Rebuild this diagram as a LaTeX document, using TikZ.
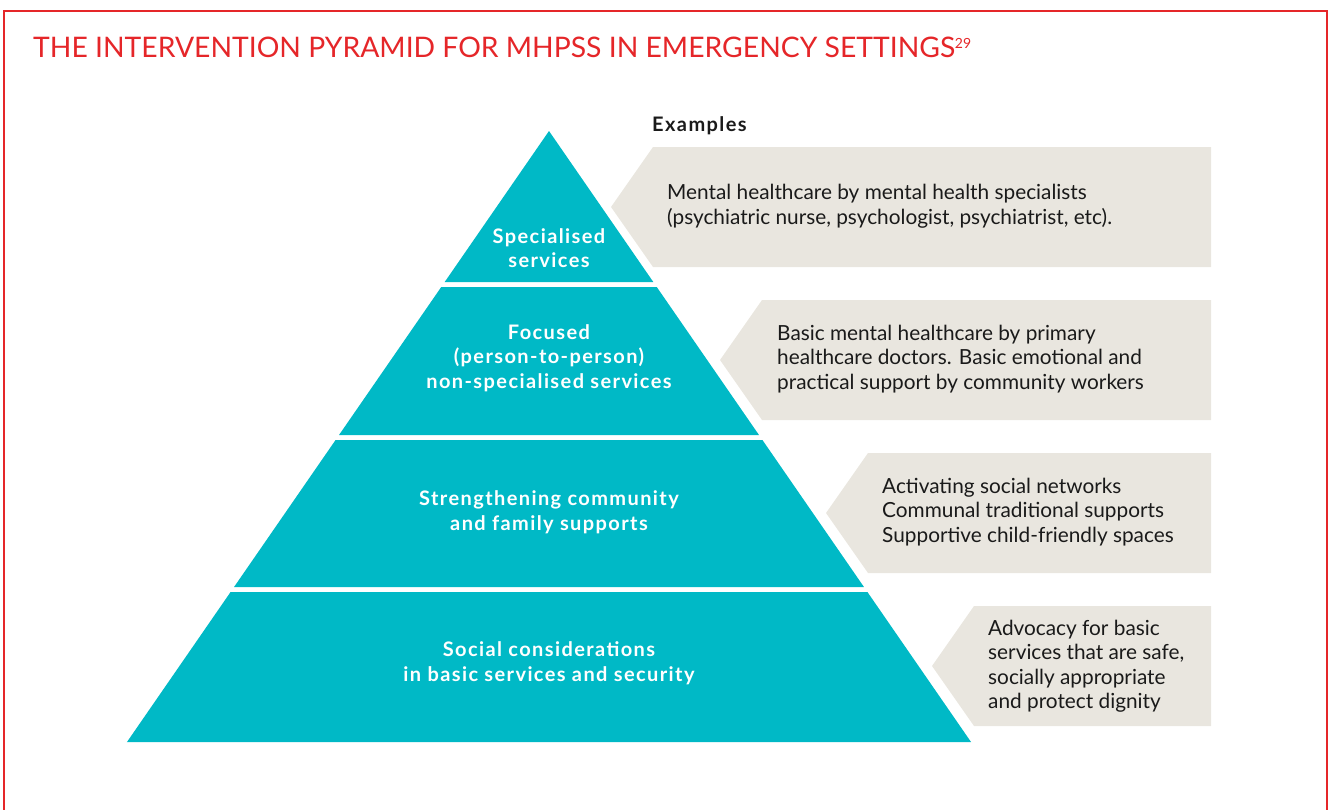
\documentclass[tikz,border=0pt]{standalone}
\usepackage{fontspec}
\setmainfont{Lato}
\usepackage{xcolor}
\usepackage{tikz}
\usetikzlibrary{calc}
\definecolor{pyrteal}{HTML}{00B9C6}
\definecolor{boxgrey}{HTML}{E9E6DF}
\definecolor{framered}{HTML}{E52629}
\definecolor{bodyink}{HTML}{1A1A1A}
\newfontfamily\widebold[LetterSpace=7]{Lato}
\begin{document}
\begin{tikzpicture}[x=1pt,y=-1pt,
  layer/.style={fill=pyrteal},
  layertext/.style={text=white,font=\fontsize{20}{24.5}\selectfont\widebold\bfseries,align=center,inner sep=0pt},
  example/.style={fill=boxgrey},
  exampletext/.style={anchor=west,text=bodyink,align=left,font=\fontsize{20.8}{24.5}\selectfont,inner sep=0pt}]
\useasboundingbox (0,0) rectangle (1331,809);
% frame, open at the bottom
\draw[framered,line width=2.2pt] (4,812) -- (4,11) -- (1327,11) -- (1327,812);
\node[anchor=west,inner sep=0pt,text=framered,font=\fontsize{28.3}{30}\selectfont] (title) at (33,47)
  {THE INTERVENTION PYRAMID FOR MHPSS IN EMERGENCY SETTINGS\raisebox{9pt}{\fontsize{14}{14}\selectfont 29}};

% pyramid layers (apex at 549,131)
\foreach \t/\b in {131/282,287/435,440/587,592/742}
  \fill[layer] ({549-(\t-131)*0.6907},\t) -- ({549+(\t-131)*0.6907},\t)
    -- ({549+(\b-131)*0.6907},\b) -- ({549-(\b-131)*0.6907},\b) -- cycle;

\node[layertext] (specialised) at (549,248) {Specialised\\services};
\node[layertext] (focused) at (549,358) {Focused\\(person-to-person)\\non-specialised services};
\node[layertext] (community) at (549,512) {Strengthening community\\and family supports};
\node[layertext] (basic) at (549,663) {Social considerations\\in basic services and security};

% example boxes
\foreach \c/\t in {653/147,762/300,868/453,974/606}
  \fill[example] (\c,\t) -- (1211,\t) -- (1211,\t+120) -- (\c,\t+120) -- (\c-42,\t+60) -- cycle;

\node[anchor=west,inner sep=0pt,text=bodyink,font=\fontsize{20}{24.5}\selectfont\widebold\bfseries] (examples) at (652,126) {Examples};
\node[exampletext] (exspecialised) at (667,206) {Mental healthcare by mental health specialists\\(psychiatric nurse, psychologist, psychiatrist, etc).};
\node[exampletext] (exfocused) at (777,359) {Basic mental healthcare by primary\\healthcare doctors. Basic emotional and\\practical support by community workers};
\node[exampletext] (excommunity) at (882,512) {Activating social networks\\Communal traditional supports\\Supportive child-friendly spaces};
\node[exampletext] (exbasic) at (988,666) {Advocacy for basic\\services that are safe,\\socially appropriate\\and protect dignity};
\end{tikzpicture}
\end{document}
